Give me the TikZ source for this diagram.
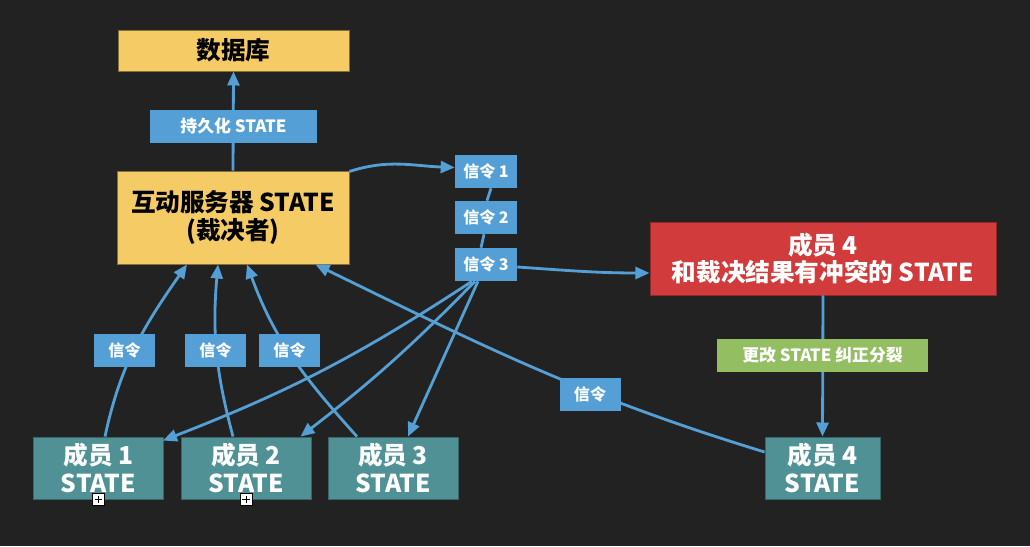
\documentclass[tikz,border=0pt]{standalone}
\usepackage{fontspec}
\newfontfamily\cjk{Noto Sans CJK SC}
\usepackage{tikz}
\usetikzlibrary{calc}
\usetikzlibrary{arrows.meta, positioning}
\usepackage{xcolor}
\definecolor{bgdark}{HTML}{222222}
\definecolor{srvyellow}{HTML}{F5CB66}
\definecolor{sigblue}{HTML}{54A0D6}
\definecolor{confred}{HTML}{D13B3B}
\definecolor{fixgreen}{HTML}{93BE62}
\definecolor{memteal}{HTML}{4F9194}

\begin{document}
\begin{tikzpicture}[x=0.025cm, y=0.025cm,
			every node/.style = {font=\cjk\bfseries},
			store/.style = {draw=srvyellow!55!black, line width=0.6pt, fill=srvyellow, text=black, align=center, inner sep=0pt, font=\cjk\bfseries\fontsize{17.5}{19.5}\selectfont},
			member/.style = {draw=memteal!70!black, line width=0.6pt, fill=memteal, text=white, align=center, inner sep=0pt, minimum width=3.25cm, minimum height=1.55cm, font=\cjk\bfseries\fontsize{17.5}{19.5}\selectfont},
			tag/.style = {fill=sigblue, text=white, inner sep=0pt, minimum width=1.525cm, minimum height=0.825cm, font=\cjk\bfseries\fontsize{11.4}{13}\selectfont},
			link/.style = {draw=sigblue, line width=2pt, -{Triangle[length=10pt, width=8.5pt]}},
			plain/.style = {draw=sigblue, line width=2pt},
			plusbox/.style = {draw=black, fill=white, line width=0.5pt, minimum size=0.3cm, inner sep=0pt,
				path picture={\draw[line width=0.6pt] ($(path picture bounding box.center)+(-2.6pt,0)$) -- +(5.2pt,0) ($(path picture bounding box.center)+(0,-2.6pt)$) -- +(0,5.2pt);}}
			]
			\fill[bgdark] (0,0) rectangle (1030,546);
			
			% boxes
			\node[store, minimum width=5.775cm, minimum height=1.025cm] (db) at (233.5,495.5) {数据库};
			\node[store, minimum width=5.8cm, minimum height=2.325cm] (srv) at (233,328.5) {互动服务器 STATE\\(裁决者)};
			
			\node[tag, minimum width=1.55cm] (sig1) at (486,374.5) {信令 1};
			\node[tag, minimum width=1.55cm] (sig2) at (486,328.5) {信令 2};
			\node[tag, minimum width=1.55cm] (sig3) at (486,281.5) {信令 3};
			
			\node[member, fill=confred, draw=confred!70!black, minimum width=8.65cm, minimum height=1.825cm] (conflict) at (823,287.5) {成员 4\\和裁决结果有冲突的 STATE};
			
			\foreach \i/\x in {1/98.5, 2/246, 3/393}
				\node[member] (m\i) at (\x,78) {成员 \i\\STATE};
			\node[member, minimum width=2.875cm] (m4) at (822.5,78) {成员 4\\STATE};
			
			\node[plusbox] (pb1) at (m1.south) {};
			\node[plusbox] (pb2) at (m2.south) {};
			
			% connectors
			\draw[link] (srv.north) -- (db.south);
			\draw[link] ($(srv.east)+(0,46)$) to[out=18, in=178] ($(sig1.west)+(0,4)$);
			\draw[plain] ($(sig1.south)+(5,0)$) -- ($(sig2.north)+(1,0)$);
			\draw[plain] ($(sig2.south)+(-2,0)$) -- ($(sig3.north)+(-5,0)$);
			\draw[link] ($(sig3.east)+(0,-2.5)$) to[out=-4, in=180] ($(conflict.west)+(0,-14.5)$);
			
			\draw[link] ($(sig3.south)+(-14,0)$) to[bend left=6] ($(m1.north east)+(-1,-4)$);
			\draw[link] ($(sig3.south)+(-11,0)$) to[bend left=4] ($(m2.north east)+(-11,0)$);
			\draw[link] ($(sig3.south)+(-8,0)$) -- ($(m3.north)+(15,0)$);
			
			\draw[link] ($(m1.north)+(6.5,0)$) to[out=78, in=235] ($(srv.south)+(-46,0)$);
			\draw[link] ($(m2.north)+(-13,0)$) to[out=105, in=-95] ($(srv.south)+(-15,0)$);
			\draw[link] ($(m3.north)+(-36,0)$) to[out=132, in=-70] ($(srv.south)+(14,0)$);
			\draw[link] ($(m4.west)+(0,16)$) to[out=163, in=-26] ($(srv.south east)+(-34,0)$);
			\draw[link] (conflict.south) -- (m4.north);
			
			% labels on the connectors
			\node[tag, minimum width=4.175cm, font=\cjk\bfseries\fontsize{12}{14}\selectfont] (persist) at (233.5,419.5) {持久化 STATE};
			\node[tag] (t1) at (124.5,195.5) {信令};
			\node[tag] (t2) at (215.5,195.5) {信令};
			\node[tag] (t3) at (289.5,195.5) {信令};
			\node[tag] (t4) at (590,151.5) {信令};
			\node[tag, fill=fixgreen, minimum width=5.275cm, font=\cjk\bfseries\fontsize{12}{14}\selectfont] (fix) at (822.5,190.5) {更改 STATE 纠正分裂};
		\end{tikzpicture}
\end{document}
